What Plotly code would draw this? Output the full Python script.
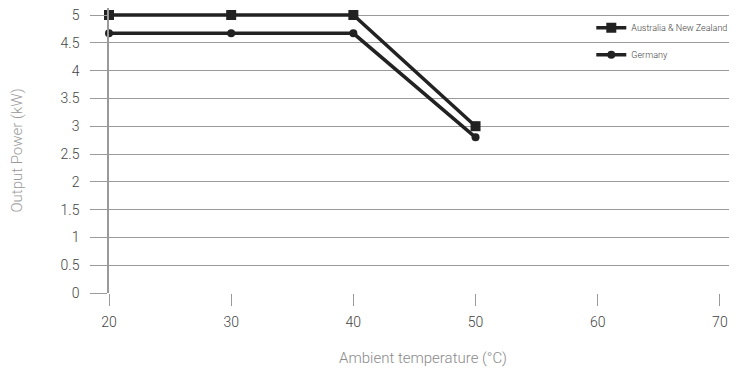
import plotly.graph_objects as go

temps = [20, 30, 40, 50]
anz_power = [5.0, 5.0, 5.0, 3.0]
germany_power = [4.67, 4.67, 4.67, 2.8]
x_ticks = [20, 30, 40, 50, 60, 70]
y_ticks = [0, 0.5, 1, 1.5, 2, 2.5, 3, 3.5, 4, 4.5, 5]
y_labels = ['0', '0.5', '1', '1.5', '2', '2.5', '3', '3.5', '4', '4.5', '5']

LINE = '#222222'
GRID = '#9a9a9a'
FONT = 'Roboto'

fig = go.Figure()
fig.add_trace(go.Scatter(
    x=temps, y=anz_power, name='Australia & New Zealand',
    mode='lines+markers', legendgroup='a',
    line=dict(color=LINE, width=3.5),
    marker=dict(symbol='square', size=10, color=LINE),
    cliponaxis=False
))
fig.add_trace(go.Scatter(
    x=temps, y=germany_power, name='Germany',
    mode='lines+markers', legendgroup='g',
    line=dict(color=LINE, width=3.5),
    marker=dict(symbol='circle', size=8, color=LINE),
    cliponaxis=False
))

fig.update_layout(
    width=737, height=375,
    margin=dict(l=101, r=8, t=0, b=90),
    plot_bgcolor='white', paper_bgcolor='white',
    font=dict(family=FONT, color='#444444', size=14, weight=300),
    legend=dict(
        x=0.768, y=0.982, xanchor='left', yanchor='top',
        font=dict(size=9, color='#444444'),
        tracegroupgap=8, bgcolor='rgba(0,0,0,0)',
        itemwidth=30
    ),
    showlegend=True,
)
fig.update_xaxes(
    range=[20, 71.4], tickvals=x_ticks, showgrid=False, zeroline=False,
    ticks='outside', ticklen=12, tickcolor=GRID, tickwidth=1,
    showline=False, automargin=False, ticklabelstandoff=4,
    title=dict(text='Ambient temperature (°C)', font=dict(color='#8a8a8a', size=15), standoff=23),
    tickfont=dict(size=14, color='#444444')
)
fig.update_yaxes(
    range=[0, 5.126], tickvals=y_ticks, ticktext=y_labels,
    showgrid=True, gridcolor=GRID, gridwidth=1, zeroline=False,
    showline=True, linecolor=GRID, linewidth=1.5,
    ticks='outside', ticklen=17, tickcolor=GRID, tickwidth=1,
    ticklabelstandoff=8, automargin=False, ticklabeloverflow='allow',
    title=dict(text='Output Power (kW)', font=dict(color='#9a9a9a', size=15), standoff=36),
    tickfont=dict(size=14, color='#444444')
)

fig.write_html('out.html')
